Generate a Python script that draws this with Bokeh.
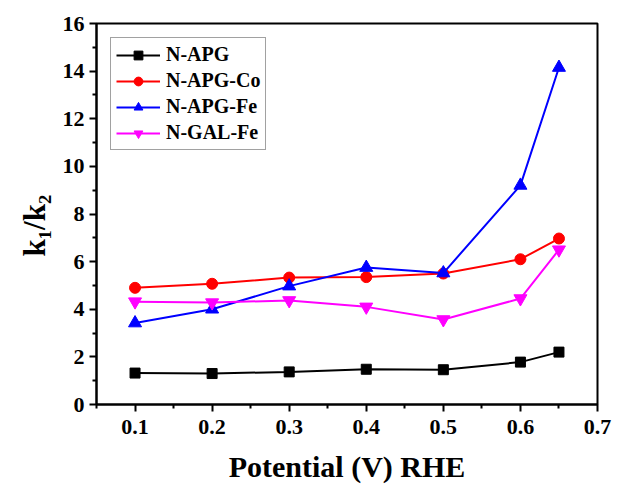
from bokeh.plotting import figure
from bokeh.embed import file_html
from bokeh.resources import INLINE
from bokeh.models import Legend, LegendItem, FixedTicker, Range1d

potential = [0.1, 0.2, 0.3, 0.4, 0.5, 0.6, 0.65]
n_apg = [1.32, 1.30, 1.37, 1.48, 1.46, 1.78, 2.20]
n_apg_co = [4.90, 5.07, 5.33, 5.35, 5.50, 6.10, 6.97]
n_apg_fe = [3.42, 4.00, 4.97, 5.75, 5.52, 9.20, 14.15]
n_gal_fe = [4.32, 4.28, 4.37, 4.10, 3.57, 4.45, 6.50]

x_ticks = [0.1, 0.2, 0.3, 0.4, 0.5, 0.6, 0.7]
x_minor = [0.05, 0.15, 0.25, 0.35, 0.45, 0.55, 0.65]
y_ticks = [0, 2, 4, 6, 8, 10, 12, 14, 16]
y_minor = [1, 3, 5, 7, 9, 11, 13, 15]

FONT = "Liberation Serif"

p = figure(width=615, height=485, output_backend="svg", toolbar_location=None,
           x_range=Range1d(0.05, 0.7), y_range=Range1d(0, 16),
           min_border_left=96, min_border_right=18, min_border_top=23, min_border_bottom=80)
p.background_fill_color = "white"
p.border_fill_color = "white"
p.grid.visible = False
p.outline_line_color = "black"
p.outline_line_width = 2

p.xaxis.ticker = FixedTicker(ticks=x_ticks, minor_ticks=x_minor)
p.yaxis.ticker = FixedTicker(ticks=y_ticks, minor_ticks=y_minor)
p.xaxis.major_label_overrides = {t: f"{t:.1f}" for t in x_ticks}

for ax in (p.xaxis, p.yaxis):
    ax.axis_line_width = 2
    ax.axis_line_color = "black"
    ax.major_tick_line_width = 2
    ax.minor_tick_line_width = 2
    ax.major_tick_out = 7
    ax.major_tick_in = 0
    ax.minor_tick_out = 4
    ax.minor_tick_in = 0
    ax.major_label_text_font = FONT
    ax.major_label_text_font_style = "bold"
    ax.major_label_text_font_size = "22px"
    ax.major_label_text_color = "black"
    ax.axis_label_text_font = FONT
    ax.axis_label_text_font_style = "bold"
    ax.axis_label_text_color = "black"

p.xaxis.major_label_standoff = 8
p.yaxis.major_label_standoff = 5
p.xaxis.axis_label = "Potential (V) RHE"
p.xaxis.axis_label_text_font_size = "30px"
p.xaxis.axis_label_standoff = 13
p.yaxis.axis_label = "k₁/k₂\u00a0\u00a0\u00a0"
p.yaxis.axis_label_text_font_size = "31px"
p.yaxis.axis_label_standoff = 8

series = [
    ("N-APG", n_apg, "black", "square", 10),
    ("N-APG-Co", n_apg_co, "#ff0000", "circle", 11),
    ("N-APG-Fe", n_apg_fe, "#0000ff", "triangle", 13),
    ("N-GAL-Fe", n_gal_fe, "#ff00ff", "inverted_triangle", 13),
]

items = []
for name, ys, color, marker, size in series:
    l = p.line(potential, ys, line_color=color, line_width=2)
    s = p.scatter(potential, ys, marker=marker, size=size, fill_color=color, line_color=color)
    items.append(LegendItem(label=name, renderers=[l, s]))

legend = Legend(items=items, location="top_left")
legend.label_text_font = FONT
legend.label_text_font_style = "bold"
legend.label_text_font_size = "20px"
legend.label_text_color = "black"
legend.border_line_color = "#444444"
legend.border_line_width = 1
legend.glyph_width = 44
legend.glyph_height = 22
legend.spacing = 3
legend.padding = 5
legend.margin = 14
legend.label_standoff = 6
legend.background_fill_alpha = 1
p.add_layout(legend)

open("out.html", "w").write(file_html(p, INLINE))
